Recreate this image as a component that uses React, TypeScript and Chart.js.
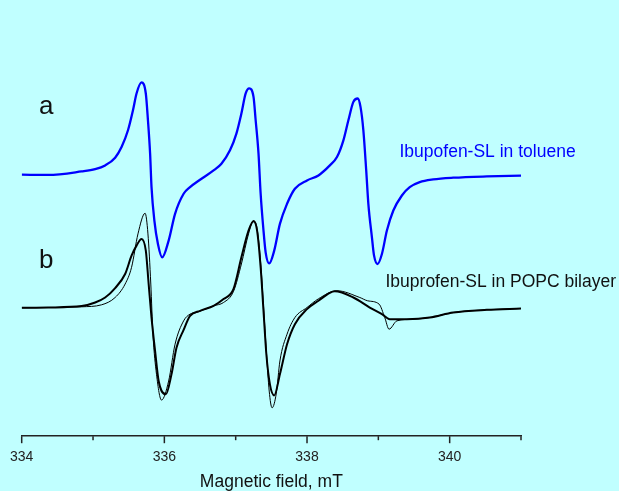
import React, { useEffect, useRef } from "react";
import { Chart, registerables } from "chart.js";

Chart.register(...registerables);

// Magnetic field (mT) and EPR signal (arbitrary units) — spectrum a (toluene)
const fieldA = [334.00, 334.37, 334.84, 335.03, 335.17, 335.31, 335.40, 335.49, 335.56, 335.61, 335.68, 335.74, 335.77, 335.80, 335.82, 335.86, 335.91, 335.97, 336.06, 336.15, 336.27, 336.36, 336.50, 336.69, 336.80, 336.92, 337.01, 337.08, 337.14, 337.19, 337.25, 337.28, 337.32, 337.35, 337.39, 337.42, 337.47, 337.54, 337.62, 337.72, 337.83, 338.00, 338.16, 338.32, 338.42, 338.51, 338.58, 338.65, 338.71, 338.75, 338.79, 338.83, 338.86, 338.91, 338.94, 338.99, 339.05, 339.12, 339.21, 339.33, 339.44, 339.58, 339.77, 340.05, 340.52, 341.00];
const signalA = [260.7, 260.5, 264, 266.3, 270, 277.7, 288.3, 305, 325, 341.7, 352.7, 341.7, 315, 282, 248.3, 215, 191.7, 178.3, 195, 221.7, 241.7, 248.3, 255.7, 265, 271.7, 285, 301.7, 321.7, 341.7, 346.7, 338.3, 315, 281.7, 241.7, 205, 183.3, 172.3, 185, 211.7, 231.7, 246.7, 255, 260, 270, 278.3, 295, 315, 333.3, 336.7, 328.3, 305, 265, 231.7, 198.3, 180, 171.7, 181.7, 205, 225, 240, 248.3, 253.3, 256, 257.7, 259, 259.7];

// Spectrum b (POPC bilayer) — thick trace
const fieldB1 = [334.00, 334.37, 334.84, 335.03, 335.17, 335.31, 335.45, 335.54, 335.61, 335.68, 335.74, 335.78, 335.82, 335.87, 335.92, 336.02, 336.10, 336.17, 336.27, 336.36, 336.50, 336.69, 336.83, 336.97, 337.08, 337.18, 337.25, 337.30, 337.35, 337.39, 337.43, 337.48, 337.54, 337.62, 337.72, 337.83, 338.00, 338.16, 338.32, 338.39, 338.65, 338.88, 339.05, 339.16, 339.40, 339.72, 340.05, 340.52, 341.00];
const signalB1 = [128, 128.3, 129.7, 133.3, 138.3, 147.7, 161.7, 180, 190, 196.7, 185, 151.7, 118.3, 85, 55, 41.7, 61.7, 88.3, 106, 120, 125, 130, 136.7, 147, 178.3, 205, 214.3, 205, 168.3, 125, 81.7, 51.7, 40.7, 61.7, 91.7, 111.7, 126.7, 135, 143, 144.5, 138.3, 128.3, 121.7, 116.7, 116.7, 118.3, 123.3, 126, 127.3];

// Spectrum b (POPC bilayer) — thin trace
const fieldB2 = [334.00, 334.37, 334.84, 335.12, 335.31, 335.45, 335.54, 335.63, 335.73, 335.77, 335.81, 335.84, 335.89, 335.96, 336.06, 336.15, 336.27, 336.36, 336.45, 336.69, 336.83, 336.97, 337.08, 337.18, 337.25, 337.30, 337.35, 337.39, 337.43, 337.47, 337.51, 337.57, 337.62, 337.72, 337.83, 338.00, 338.16, 338.42, 338.74, 338.85, 339.01, 339.09, 339.15, 339.26, 339.49, 339.72, 340.05, 340.52, 341.00];
const signalB2 = [128, 128.3, 129, 131, 138.3, 151.7, 168.3, 201.7, 222.3, 201.7, 151.7, 101.7, 61.7, 36, 55, 91.7, 115, 121.7, 123.3, 130, 133.3, 144.5, 171.7, 201.7, 215, 207, 173, 130, 85, 45, 28.3, 43, 75, 101.7, 118.3, 128.3, 137, 145, 138.3, 135, 131.7, 118.3, 106.7, 115, 116.7, 118.3, 123.3, 126, 127.3];

const labeledTicks = [334, 336, 338, 340];
const axisTitle = "Magnetic field, mT";
const captionA = "Ibupofen-SL in toluene";
const captionB = "Ibuprofen-SL in POPC bilayer";

const FONT = "'Liberation Sans', Arial, sans-serif";
const BG = "#C0FFFF";

const zip = (xs: number[], ys: number[]) => xs.map((x, i) => ({ x, y: ys[i] }));

const bgPlugin = {
  id: "bg",
  beforeDraw(chart: any) {
    const { ctx, width, height } = chart;
    ctx.save();
    ctx.fillStyle = BG;
    ctx.fillRect(0, 0, width, height);
    ctx.restore();
  },
};

const ticksPlugin = {
  id: "customTicks",
  afterDraw(chart: any) {
    const { ctx } = chart;
    const xs = chart.scales.x;
    const y0 = chart.chartArea.bottom;
    ctx.save();
    ctx.strokeStyle = "#222";
    ctx.lineWidth = 1.5;
    xs.ticks.forEach((t: any) => {
      const px = xs.getPixelForValue(t.value);
      const len = labeledTicks.includes(t.value) ? 7 : 4;
      ctx.beginPath();
      ctx.moveTo(px, y0);
      ctx.lineTo(px, y0 + len);
      ctx.stroke();
    });
    ctx.restore();
  },
};

const textPlugin = {
  id: "texts",
  afterDraw(chart: any) {
    const { ctx } = chart;
    ctx.save();
    ctx.textBaseline = "alphabetic";
    ctx.textAlign = "left";
    ctx.fillStyle = "#111";
    ctx.font = `26px ${FONT}`;
    ctx.fillText("a", 39, 114);
    ctx.fillText("b", 39, 268);
    ctx.font = `17.5px ${FONT}`;
    ctx.fillStyle = "#0000ff";
    ctx.fillText(captionA, 399.5, 157);
    ctx.fillStyle = "#111";
    ctx.fillText(captionB, 385.5, 286.5);
    ctx.restore();
  },
};

export default function App() {
  const ref = useRef<HTMLCanvasElement | null>(null);
  useEffect(() => {
    if (!ref.current) return;
    const chart = new Chart(ref.current, {
      type: "line",
      data: {
        datasets: [
          {
            data: zip(fieldB2, signalB2),
            borderColor: "#000",
            borderWidth: 1,
            pointRadius: 0,
            cubicInterpolationMode: "monotone",
            fill: false,
          },
          {
            data: zip(fieldB1, signalB1),
            borderColor: "#000",
            borderWidth: 2,
            pointRadius: 0,
            cubicInterpolationMode: "monotone",
            fill: false,
          },
          {
            data: zip(fieldA, signalA),
            borderColor: "#0000ff",
            borderWidth: 2.3,
            pointRadius: 0,
            cubicInterpolationMode: "monotone",
            fill: false,
          },
        ],
      },
      options: {
        animation: false,
        responsive: false,
        devicePixelRatio: 1,
        layout: { padding: { left: 21.7, right: 98, top: 35, bottom: 0 } },
        plugins: { legend: { display: false }, tooltip: { enabled: false } },
        scales: {
          x: {
            type: "linear",
            min: 334,
            max: 341,
            ticks: {
              stepSize: 1,
              autoSkip: false,
              maxRotation: 0,
              padding: 7,
              color: "#222",
              font: { family: FONT, size: 14 },
              callback: (v: any) => (labeledTicks.includes(Number(v)) ? String(v) : ""),
            },
            grid: { display: true, drawOnChartArea: false, tickLength: 6, tickColor: "rgba(0,0,0,0)" },
            border: { color: "#222", width: 1.5 },
            title: {
              display: true,
              text: axisTitle,
              color: "#111",
              font: { family: FONT, size: 17.5 },
              padding: { top: -1, bottom: -2 },
            },
          },
          y: { display: false, min: 0, max: 400 },
        },
      },
      plugins: [bgPlugin, ticksPlugin, textPlugin],
    } as any);
    return () => chart.destroy();
  }, []);

  return (
    <div style={{ position: "fixed", left: 0, top: 0, width: 619, height: 491, background: BG }}>
      <canvas ref={ref} width={619} height={491} style={{ display: "block" }} />
    </div>
  );
}
